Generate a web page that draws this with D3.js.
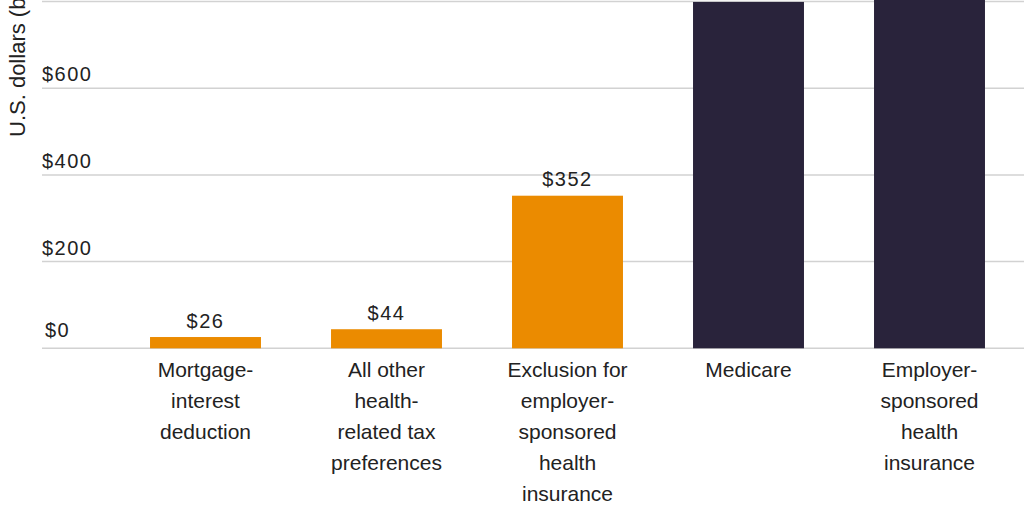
<!DOCTYPE html>
<html><head><meta charset="utf-8">
<script src="https://cdn.jsdelivr.net/npm/d3@7"></script>
<style>html,body{margin:0;padding:0;background:#fff;overflow:hidden}</style>
</head><body>
<svg id="c" width="1024" height="512"></svg>
<script>
const categories = [
  ["Mortgage-","interest","deduction"],
  ["All other","health-","related tax","preferences"],
  ["Exclusion for","employer-","sponsored","health","insurance"],
  ["Medicare"],
  ["Employer-","sponsored","health","insurance"]
];
const values = [26, 44, 352, 799, 1000];
const groups = ["tax","tax","tax","spend","spend"];
const yTicks = [0, 200, 400, 600, 800];
const yTitle = "U.S. dollars (billions)";

const svg = d3.select("#c");
const font = "'Liberation Sans', Arial, sans-serif";
const color = d3.scaleOrdinal().domain(["tax","spend"]).range(["#EB8B00","#29233B"]);

const x = d3.scaleBand().domain(d3.range(values.length)).range([115, 1020])
  .paddingInner(0.387).paddingOuter(0.1935);
const y = d3.scaleLinear().domain([0, 800]).range([348.3, 1.5]);

// gridlines
const g = svg.append("g");
g.selectAll("line.grid").data(yTicks).join("line")
  .attr("x1", 42).attr("x2", 1024)
  .attr("y1", d => y(d)).attr("y2", d => y(d))
  .attr("stroke", "#d2d2d2").attr("stroke-width", 1.5);
g.selectAll("text.tick").data(yTicks).join("text")
  .attr("x", d => d === 0 ? 45 : 42)
  .attr("y", d => y(d) - (d === 0 ? 11 : 7))
  .attr("font-family", font).attr("font-size", 20).attr("letter-spacing", 1.5)
  .attr("fill", "#222")
  .text(d => "$" + d3.format(",")(d));

// y title
svg.append("text")
  .attr("transform", "translate(25,137) rotate(-90)")
  .attr("font-family", font).attr("font-size", 22).attr("fill", "#222")
  .text(yTitle);

// bars
svg.selectAll("rect.bar").data(values).join("rect")
  .attr("x", (d,i) => x(i)).attr("width", x.bandwidth())
  .attr("y", d => y(d)).attr("height", d => y(0) - y(d))
  .attr("fill", (d,i) => color(groups[i]));

// value labels
svg.selectAll("text.val").data(values).join("text")
  .attr("x", (d,i) => x(i) + x.bandwidth()/2)
  .attr("y", d => y(d) - 9.5)
  .attr("text-anchor", "middle")
  .attr("font-family", font).attr("font-size", 20).attr("letter-spacing", 1.5)
  .attr("fill", "#222")
  .text(d => "$" + d3.format(",")(d));

// category labels
const cl = svg.selectAll("text.cat").data(categories).join("text")
  .attr("x", (d,i) => x(i) + x.bandwidth()/2)
  .attr("y", 377)
  .attr("text-anchor", "middle")
  .attr("font-family", font).attr("font-size", 21).attr("fill", "#222");
cl.each(function(lines, i){
  d3.select(this).selectAll("tspan").data(lines).join("tspan")
    .attr("x", x(i) + x.bandwidth()/2)
    .attr("dy", (d,j) => j === 0 ? 0 : 31)
    .text(d => d);
});
</script>
</body></html>
